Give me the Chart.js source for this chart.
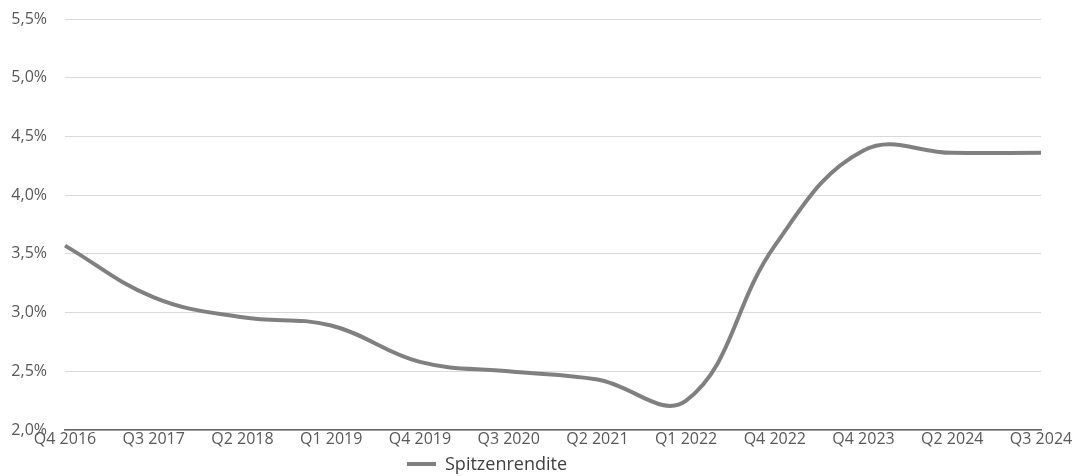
<!DOCTYPE html>
<html lang="de">
<head>
<meta charset="utf-8">
<title>Spitzenrendite</title>
<script src="https://cdn.jsdelivr.net/npm/chart.js@4.4.1/dist/chart.umd.min.js"></script>
<style>
  html, body { margin: 0; padding: 0; background: #ffffff; }
  #wrap { width: 1080px; height: 476px; position: relative; }
</style>
</head>
<body>
<div id="wrap"><canvas id="chart"></canvas></div>
<script>
// Quarters shown on the x axis
const quarters = ['Q4 2016', 'Q3 2017', 'Q2 2018', 'Q1 2019', 'Q4 2019', 'Q3 2020',
                  'Q2 2021', 'Q1 2022', 'Q4 2022', 'Q4 2023', 'Q2 2024', 'Q3 2024'];

// Prime yield in percent
const spitzenrendite = [3.57, 3.13, 2.96, 2.89, 2.58, 2.50, 2.43, 2.25, 3.57, 4.38, 4.36, 4.36];

// Y axis range and step (percent)
const yMin = 2.0;
const yMax = 5.5;
const yStep = 0.5;

const seriesLabel = 'Spitzenrendite';
const lineColor = '#808080';
const fontFamily = '"Open Sans", "Noto Sans", sans-serif';

// Legend drawn below the plot: short line sample followed by the series name
const bottomLegend = {
  id: 'bottomLegend',
  afterDraw(chart) {
    const ctx = chart.ctx;
    const ds = chart.data.datasets[0];
    const y = 464;
    const x0 = 407;
    ctx.save();
    ctx.strokeStyle = ds.borderColor;
    ctx.lineWidth = 4;
    ctx.lineCap = 'butt';
    ctx.beginPath();
    ctx.moveTo(x0, y);
    ctx.lineTo(x0 + 29, y);
    ctx.stroke();
    ctx.fillStyle = '#404040';
    ctx.font = '18px ' + fontFamily;
    ctx.textBaseline = 'middle';
    ctx.textAlign = 'left';
    ctx.fillText(ds.label, x0 + 38, y + 1);
    ctx.restore();
  }
};

new Chart(document.getElementById('chart'), {
  type: 'line',
  data: {
    labels: quarters,
    datasets: [{
      label: seriesLabel,
      data: spitzenrendite,
      borderColor: lineColor,
      backgroundColor: lineColor,
      borderWidth: 4,
      pointRadius: 0,
      tension: 0.4,
      fill: false
    }]
  },
  options: {
    responsive: true,
    maintainAspectRatio: false,
    animation: false,
    layout: { padding: { top: 19, right: 39, bottom: 0, left: 0 } },
    plugins: {
      legend: { display: false },
      tooltip: { enabled: false }
    },
    scales: {
      x: {
        type: 'category',
        offset: false,
        grid: { display: false, drawTicks: false },
        border: { display: true, color: '#666666', width: 1.5 },
        ticks: {
          color: '#595959',
          font: { family: fontFamily, size: 16 },
          padding: 0,
          maxRotation: 0,
          autoSkip: false
        },
        afterFit(scale) { scale.height = 46; }
      },
      y: {
        min: yMin,
        max: yMax,
        grid: { color: '#d9d9d9', lineWidth: 1, drawTicks: false },
        border: { display: false },
        ticks: {
          stepSize: yStep,
          color: '#595959',
          font: { family: fontFamily, size: 16 },
          padding: 18,
          callback: (v) => v.toFixed(1).replace('.', ',') + '%'
        },
        afterFit(scale) {
          scale.width = 65;
          scale.paddingTop = 0;
          scale.paddingBottom = 0;
        }
      }
    }
  },
  plugins: [bottomLegend]
});
</script>
</body>
</html>
